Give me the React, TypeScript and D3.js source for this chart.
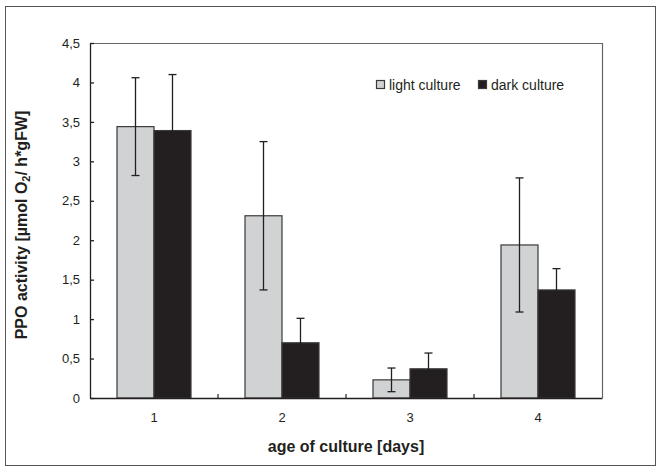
import { useEffect, useRef } from "react";
import * as d3 from "d3";

const width = 662;
const height = 472;
const margin = { top: 43, right: 60, bottom: 74, left: 90 };

const days = ["1", "2", "3", "4"];
const series = ["light culture", "dark culture"];
const lightValues = [3.44, 2.31, 0.23, 1.94];
const lightErrors = [0.62, 0.94, 0.15, 0.85];
const darkValues = [3.39, 0.7, 0.37, 1.37];
const darkErrors = [0.71, 0.31, 0.2, 0.27];
const yTicks = [0, 0.5, 1, 1.5, 2, 2.5, 3, 3.5, 4, 4.5];

const colors = ["#d1d2d4", "#231f20"];
const font = "'Liberation Sans', Arial, sans-serif";

function App() {
  const d3Node = useRef<HTMLDivElement>(null);

  useEffect(() => {
    const root = d3.select(d3Node.current);
    root.selectAll("svg").remove();

    const svg = root
      .append("svg")
      .attr("width", width)
      .attr("height", height)
      .style("position", "absolute")
      .style("left", "0px")
      .style("top", "0px")
      .style("font-family", font);

    svg.append("rect").attr("width", width).attr("height", height).attr("fill", "#fff");
    // outer frame
    svg
      .append("rect")
      .attr("x", 5.5)
      .attr("y", 6.5)
      .attr("width", 650)
      .attr("height", 459)
      .attr("fill", "none")
      .attr("stroke", "#555")
      .attr("stroke-width", 1);

    const w = width - margin.left - margin.right;
    const h = height - margin.top - margin.bottom;

    const x = d3.scaleBand().domain(days).range([0, w]).padding(0);
    const xs = d3
      .scaleBand()
      .domain(series)
      .range([0, x.bandwidth()])
      .paddingInner(0)
      .paddingOuter(0.73);
    const y = d3.scaleLinear().domain([0, 4.5]).range([h, 0]);

    const g = svg
      .append("g")
      .attr("transform", "translate(" + margin.left + "," + margin.top + ")");

    // top / right border
    g.append("path")
      .attr("d", `M0.5,0.5H${w + 0.5}V${h}`)
      .attr("fill", "none")
      .attr("stroke", "#666")
      .attr("stroke-width", 1.2);

    const data = days.map((d, i) => ({
      day: d,
      vals: [
        { s: series[0], v: lightValues[i], e: lightErrors[i] },
        { s: series[1], v: darkValues[i], e: darkErrors[i] },
      ],
    }));

    const groups = g
      .selectAll(".grp")
      .data(data)
      .enter()
      .append("g")
      .attr("transform", (d) => "translate(" + x(d.day) + ",0)");

    groups
      .selectAll("rect")
      .data((d) => d.vals)
      .enter()
      .append("rect")
      .attr("x", (d) => xs(d.s)!)
      .attr("y", (d) => y(d.v))
      .attr("width", xs.bandwidth())
      .attr("height", (d) => h - y(d.v))
      .attr("fill", (d, i) => colors[i])
      .attr("stroke", "#3a3a3a")
      .attr("stroke-width", 1.2);

    // error bars
    const err = groups
      .selectAll(".err")
      .data((d) => d.vals)
      .enter()
      .append("g")
      .attr("stroke", "#231f20")
      .attr("stroke-width", 1.3)
      .attr("transform", (d) => "translate(" + (xs(d.s)! + xs.bandwidth() / 2) + ",0)");
    err
      .append("line")
      .attr("y1", (d) => y(d.v - d.e))
      .attr("y2", (d) => y(d.v + d.e));
    err
      .append("line")
      .attr("x1", -4)
      .attr("x2", 4)
      .attr("y1", (d) => y(d.v + d.e))
      .attr("y2", (d) => y(d.v + d.e));
    err
      .append("line")
      .attr("x1", -4)
      .attr("x2", 4)
      .attr("y1", (d) => y(d.v - d.e))
      .attr("y2", (d) => y(d.v - d.e));

    // Y axis
    const yAxis = g
      .append("g")
      .call(
        d3
          .axisLeft(y)
          .tickValues(yTicks)
          .tickSizeInner(-4)
          .tickSizeOuter(0)
          .tickPadding(10)
          .tickFormat((d) => String(d).replace(".", ","))
      );
    yAxis.selectAll("text").attr("font-size", 13).attr("font-family", font).attr("fill", "#231f20");
    yAxis.selectAll("line, path").attr("stroke", "#231f20").attr("stroke-width", 1.3);

    // X axis
    const xAxis = g
      .append("g")
      .attr("transform", "translate(0," + h + ")")
      .call(d3.axisBottom(x).tickSize(0).tickPadding(15));
    xAxis.selectAll("text").attr("font-size", 13).attr("font-family", font).attr("fill", "#231f20");
    xAxis.select("path").attr("stroke", "#231f20").attr("stroke-width", 1.3);
    // ticks between categories
    g.selectAll(".sep")
      .data(days.slice(1))
      .enter()
      .append("line")
      .attr("x1", (d) => x(d)!)
      .attr("x2", (d) => x(d)!)
      .attr("y1", h)
      .attr("y2", h - 4)
      .attr("stroke", "#231f20")
      .attr("stroke-width", 1.2);

    // legend
    const legend = g.append("g").attr("transform", "translate(286,37)");
    const lx = [0, 102];
    series.forEach((s, i) => {
      legend
        .append("rect")
        .attr("x", lx[i] + 0.5)
        .attr("y", 0.5)
        .attr("width", 8)
        .attr("height", 8)
        .attr("fill", colors[i])
        .attr("stroke", "#3a3a3a")
        .attr("stroke-width", 1.2);
      legend
        .append("text")
        .attr("x", lx[i] + 13)
        .attr("y", 10)
        .attr("font-size", 14)
        .attr("fill", "#231f20")
        .text(s);
    });

    // axis titles
    svg
      .append("text")
      .attr("x", margin.left + w / 2)
      .attr("y", 452)
      .attr("text-anchor", "middle")
      .attr("font-size", 16)
      .attr("font-weight", "bold")
      .attr("fill", "#231f20")
      .text("age of culture [days]");

    const yt = svg
      .append("text")
      .attr("transform", "translate(27,225) rotate(-90)")
      .attr("text-anchor", "middle")
      .attr("font-size", 16)
      .attr("font-weight", "bold")
      .attr("fill", "#231f20");
    yt.append("tspan").text("PPO activity [µmol O");
    yt.append("tspan").attr("font-size", 11).attr("dy", 3).text("2");
    yt.append("tspan").attr("dy", -3).text("/ h*gFW]");
  }, []);

  return <div ref={d3Node} />;
}

export default App;
